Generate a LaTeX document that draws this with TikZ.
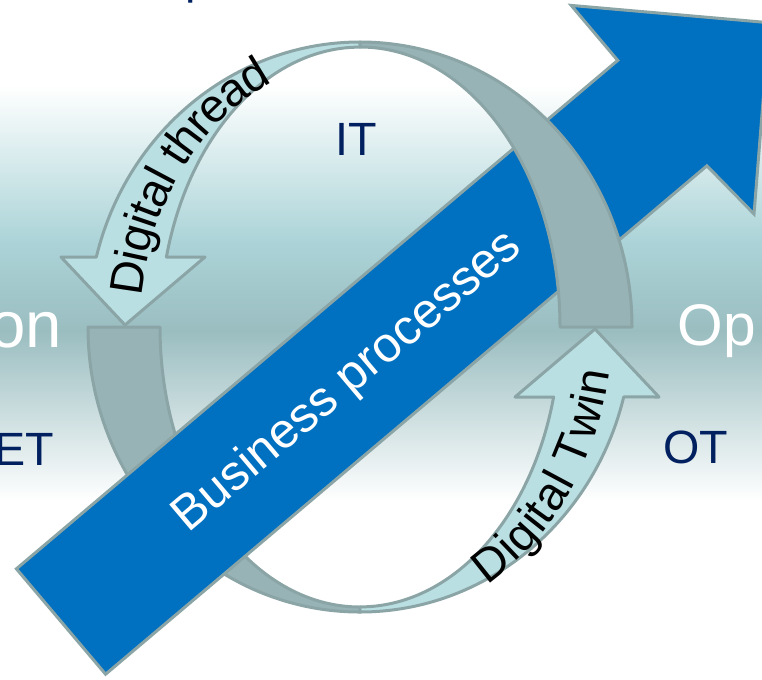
\documentclass[tikz,border=0pt]{standalone}
\usepackage{fontspec}
\setmainfont{Liberation Sans}
\usetikzlibrary{decorations.text}

\definecolor{ringEdge}{RGB}{139,165,167}
\definecolor{ringBack}{RGB}{151,179,181}
\definecolor{ringFront}{RGB}{185,223,227}
\definecolor{procBlue}{RGB}{0,112,192}
\definecolor{labelNavy}{RGB}{0,32,96}
\definecolor{bgTeal}{RGB}{172,212,216}
\definecolor{bgGrey}{RGB}{154,189,192}

\tikzset{every picture/.style={line width=0.75pt}}
\tikzset{
  ringback/.style={draw=ringEdge, fill=ringBack, line width=2.25pt, line join=round},
  ringfront/.style={draw=ringEdge, fill=ringFront, line width=2.25pt, line join=round},
  bigarrow/.style={draw=ringEdge, fill=procBlue, line width=2.25pt},
  layerlabel/.style={inner sep=0pt, text=labelNavy, font=\fontsize{35}{42}\selectfont},
  arealabel/.style={inner sep=0pt, text=white},
  ringtext/.style={decorate, decoration={text along path, text align=center, raise=-12pt}}
}

\begin{document}
\begin{tikzpicture}[x=0.75pt,y=0.75pt,yscale=-1,xscale=1]
        \useasboundingbox (0,0) rectangle (762,679);

        %Background bands
        \fill [white] (0,0) rectangle (762,86);
        \shade [top color=white, bottom color=bgTeal] (0,85) rectangle (762,241);
        \shade [top color=bgTeal, bottom color=bgGrey] (0,240) rectangle (762,331);
        \shade [top color=bgGrey, bottom color=white] (0,330) rectangle (762,501);
        \fill [white] (0,500) rectangle (762,679);

        %Shape: Digital thread arrow (front face, upper left)
        \draw [ringfront] (360,42) arc[start angle=270, end angle=194.2, x radius=272, y radius=285] -- (61,257) -- (125,325) -- (205,257) -- (166.4,257) arc[start angle=194.5, end angle=270, x radius=200, y radius=280] -- cycle;
        %Shape: back face, lower left
        \draw [ringback] (88,327) arc[start angle=180, end angle=90, x radius=272, y radius=285] -- (360,607) arc[start angle=90, end angle=180, x radius=200, y radius=280] -- cycle;
        %Shape: Digital Twin arrow (front face, lower right)
        \draw [ringfront] (360,612) arc[start angle=90, end angle=14.2, x radius=272, y radius=285] -- (659,397) -- (595,329) -- (515,397) -- (553.6,397) arc[start angle=14.5, end angle=90, x radius=200, y radius=280] -- cycle;

        %Shape: Business processes arrow
        \draw [bigarrow] (16.4,568.8) -- (617.7,60.4) -- (571.2,5.4) -- (769.3,22.7) -- (754,214) -- (706.9,165.8) -- (105.6,674.2) -- cycle;

        %Shape: back face, upper right
        \draw [ringback] (360,42) arc[start angle=270, end angle=360, x radius=272, y radius=285] -- (560,327) arc[start angle=0, end angle=-90, x radius=200, y radius=280] -- cycle;

        % Curved Text
        \path [ringtext, decoration={text={|\fontsize{35}{42}\selectfont|Digital thread}}] (124.9,302.4) arc[start angle=185, end angle=248, x radius=236, y radius=282.5];
        % Curved Text
        \path [ringtext, decoration={text={|\fontsize{35}{42}\selectfont|Digital Twin}}] (470.8,576.4) arc[start angle=62, end angle=7, x radius=236, y radius=282.5];

        % Text Node
        \node (lblProc) [arealabel, rotate=40.2, font=\fontsize{37}{44}\selectfont] at (348,382) {Business processes};
        % Text Node
        \node (lblIT) [layerlabel, anchor=base] at (356,155) {IT};
        % Text Node
        \node (lblOT) [layerlabel, anchor=base] at (695.5,463) {OT};
        % Text Node
        \node (lblET) [layerlabel, anchor=base west] at (-6,465) {ET};
        % Text Node
        \node (lblTop) [layerlabel, anchor=base west] at (185,-7) {p};
        % Text Node
        \node (lblOn) [arealabel, anchor=base west, font=\fontsize{49}{58}\selectfont] at (-11,347) {on};
        % Text Node
        \node (lblOp) [arealabel, anchor=base west, font=\fontsize{44}{52}\selectfont] at (677,345) {Op};

\end{tikzpicture}
\end{document}
